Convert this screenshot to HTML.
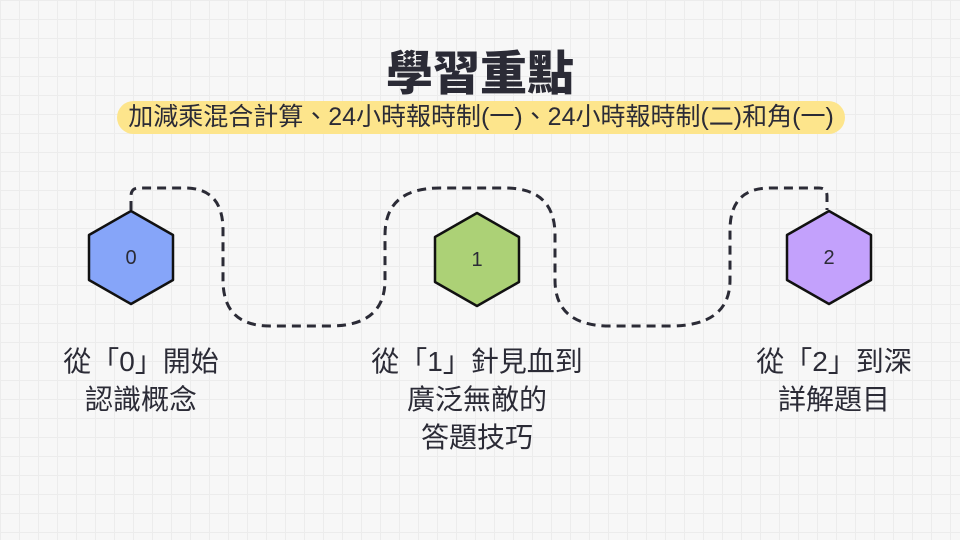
<!DOCTYPE html>
<html><head><meta charset="utf-8"><style>
body{margin:0;width:960px;height:540px;overflow:hidden;background:#f7f7f7;
background-image:linear-gradient(#ececec 1px,transparent 1px),linear-gradient(90deg,#ececec 1px,transparent 1px);background-size:19px 19px;
font-family:"Liberation Sans","Noto Sans CJK TC",sans-serif;color:#2b2b36;position:relative}
.t{position:absolute;left:0;width:960px;text-align:center;top:44px;font-size:47px;font-weight:900;line-height:60px}
.pill{position:absolute;left:117px;top:101px;width:728px;height:33px;background:#fde58c;border-radius:17px;text-align:center;font-size:25px;line-height:33px;white-space:nowrap}
.l{position:absolute;text-align:center;font-size:28px;line-height:38px;width:300px}
</style></head><body>
<div class="t">學習重點</div>
<div class="pill">加減乘混合計算、24小時報時制(一)、24小時報時制(二)和角(一)</div>
<svg width="960" height="540" style="position:absolute;left:0;top:0">
<path d="M131 210 V196 Q131 188 139 188 H185 Q223 188 223 230 V280 Q223 326 270 326 H330 Q385 326 385 280 V235 Q385 188 440 188 H505 Q555 188 555 235 V280 Q555 326 610 326 H670 Q730 326 730 280 V230 Q730 188 770 188 H819 Q827 188 827 196 V210" fill="none" stroke="#2b2b36" stroke-width="3" stroke-dasharray="9 6"/>
<g stroke="#111" stroke-width="2.5" stroke-linejoin="round">
<polygon points="131,211 173,235 173,280 131,304 89,280 89,235" fill="#86a5f9"/>
<polygon points="477,213 519,237 519,282 477,306 435,282 435,237" fill="#acd176"/>
<polygon points="829,211 871,235 871,280 829,304 787,280 787,235" fill="#c3a1fc"/>
</g>
<g font-size="20" text-anchor="middle" fill="#2b2b36" font-family="Liberation Sans,sans-serif">
<text x="131" y="264">0</text><text x="477" y="266">1</text><text x="829" y="264">2</text></g>
</svg>
<div class="l" style="left:-9px;top:343px">從「0」開始<br>認識概念</div>
<div class="l" style="left:327px;top:343px">從「1」針見血到<br>廣泛無敵的<br>答題技巧</div>
<div class="l" style="left:684px;top:343px">從「2」到深<br>詳解題目</div>
</body></html>
